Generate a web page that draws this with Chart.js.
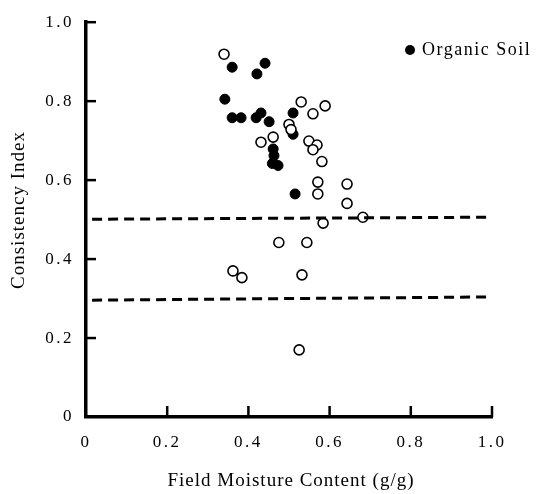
<!DOCTYPE html>
<html>
<head>
<meta charset="utf-8">
<script src="https://cdn.jsdelivr.net/npm/chart.js@4"></script>
<style>
  html, body { margin: 0; padding: 0; background: #fff; }
  #wrap { width: 538px; height: 494px; }
</style>
</head>
<body>
<div id="wrap"><canvas id="chart" width="538" height="494"></canvas></div>
<script>
// Organic soil samples (filled circles): field moisture content, consistency index
const organicX = [0.360, 0.441, 0.421, 0.342, 0.360, 0.382, 0.419, 0.431, 0.451, 0.510, 0.510, 0.461, 0.463, 0.459, 0.473, 0.515];
const organicY = [0.886, 0.896, 0.869, 0.805, 0.758, 0.758, 0.758, 0.770, 0.748, 0.770, 0.716, 0.679, 0.662, 0.642, 0.637, 0.565];

// Other samples (open circles)
const otherX = [0.340, 0.530, 0.589, 0.559, 0.500, 0.505, 0.461, 0.431, 0.549, 0.569, 0.559, 0.581, 0.571, 0.643, 0.571, 0.643, 0.584, 0.682, 0.475, 0.544, 0.532, 0.362, 0.384, 0.525];
const otherY = [0.919, 0.798, 0.788, 0.768, 0.741, 0.728, 0.709, 0.696, 0.699, 0.689, 0.677, 0.647, 0.595, 0.590, 0.565, 0.541, 0.491, 0.506, 0.442, 0.442, 0.360, 0.370, 0.353, 0.170];

// dashed reference lines (start / end)
const upperLineX = [0.015, 0.99];
const upperLineY = [0.501, 0.506];
const lowerLineX = [0.015, 0.99];
const lowerLineY = [0.296, 0.304];

const tickValues = [0, 0.2, 0.4, 0.6, 0.8, 1.0];

const toPoints = (xs, ys) => xs.map((x, i) => ({ x: x, y: ys[i] }));
const fmt = v => (v === 0 ? '0' : v.toFixed(1));
const serif = '"Liberation Serif", "DejaVu Serif", serif';

// loose typewriter-like spacing for the tick numbers
const spacing = {
    id: 'spacing',
    beforeLayout(chart) { chart.ctx.letterSpacing = '2.5px'; },
    beforeDraw(chart) { chart.ctx.letterSpacing = '2.5px'; }
};

// inward tick marks, axis titles and legend
const extras = {
    id: 'extras',
    afterDraw(chart) {
        const ctx = chart.ctx;
        const xs = chart.scales.x, ys = chart.scales.y;
        const area = chart.chartArea;
        ctx.save();
        ctx.strokeStyle = '#000';
        ctx.lineWidth = 2.5;
        tickValues.slice(1).forEach(v => {
            const px = xs.getPixelForValue(v);
            ctx.beginPath();
            ctx.moveTo(px, area.bottom);
            ctx.lineTo(px, area.bottom - 11);
            ctx.stroke();
            const py = ys.getPixelForValue(v);
            ctx.beginPath();
            ctx.moveTo(area.left, py);
            ctx.lineTo(area.left + 10, py);
            ctx.stroke();
        });

        ctx.fillStyle = '#000';
        ctx.letterSpacing = '1px';
        ctx.font = '19px ' + serif;
        ctx.textBaseline = 'middle';

        // x title
        ctx.textAlign = 'center';
        ctx.fillText('Field Moisture Content (g/g)', 291, 481);

        // y title
        ctx.save();
        ctx.translate(19, 210);
        ctx.rotate(-Math.PI / 2);
        ctx.fillText('Consistency Index', 0, 0);
        ctx.restore();

        // legend
        ctx.beginPath();
        ctx.arc(410, 50, 5, 0, Math.PI * 2);
        ctx.fill();
        ctx.font = '18px ' + serif;
        ctx.letterSpacing = '1.5px';
        ctx.textAlign = 'left';
        ctx.fillText('Organic Soil', 422, 50);
        ctx.restore();
    }
};

const ctx = document.getElementById('chart');

new Chart(ctx, {
    type: 'scatter',
    data: {
        datasets: [{
            label: 'Upper limit',
            type: 'line',
            data: toPoints(upperLineX, upperLineY),
            borderColor: '#000',
            borderWidth: 3,
            borderDash: [10, 6],
            pointRadius: 0,
            fill: false
        }, {
            label: 'Lower limit',
            type: 'line',
            data: toPoints(lowerLineX, lowerLineY),
            borderColor: '#000',
            borderWidth: 3,
            borderDash: [10, 6],
            pointRadius: 0,
            fill: false
        }, {
            label: 'Other',
            data: toPoints(otherX, otherY),
            backgroundColor: '#fff',
            borderColor: '#000',
            borderWidth: 1.6,
            pointRadius: 5
        }, {
            label: 'Organic Soil',
            data: toPoints(organicX, organicY),
            backgroundColor: '#000',
            borderColor: '#000',
            borderWidth: 1,
            pointRadius: 5
        }]
    },
    options: {
        responsive: false,
        animation: false,
        layout: { padding: { top: 12, right: 46, left: 0, bottom: 0 } },
        plugins: {
            legend: { display: false },
            tooltip: { enabled: false }
        },
        scales: {
            x: {
                type: 'linear',
                min: 0,
                max: 1,
                afterFit: s => { s.height = 77; },
                afterBuildTicks: s => { s.ticks = tickValues.map(v => ({ value: v })); },
                grid: { display: false, drawTicks: false },
                border: { display: true, color: '#000', width: 3.5 },
                ticks: {
                    callback: fmt,
                    color: '#000',
                    padding: 15,
                    maxRotation: 0,
                    font: { family: serif, size: 17 }
                }
            },
            y: {
                type: 'linear',
                min: 0,
                max: 1,
                afterFit: s => { s.width = 86; },
                afterBuildTicks: s => { s.ticks = tickValues.map(v => ({ value: v })); },
                grid: { display: false, drawTicks: false },
                border: { display: true, color: '#000', width: 3.5 },
                ticks: {
                    callback: fmt,
                    color: '#000',
                    padding: 12,
                    font: { family: serif, size: 17 }
                }
            }
        }
    },
    plugins: [spacing, extras]
});
</script>
</body>
</html>
